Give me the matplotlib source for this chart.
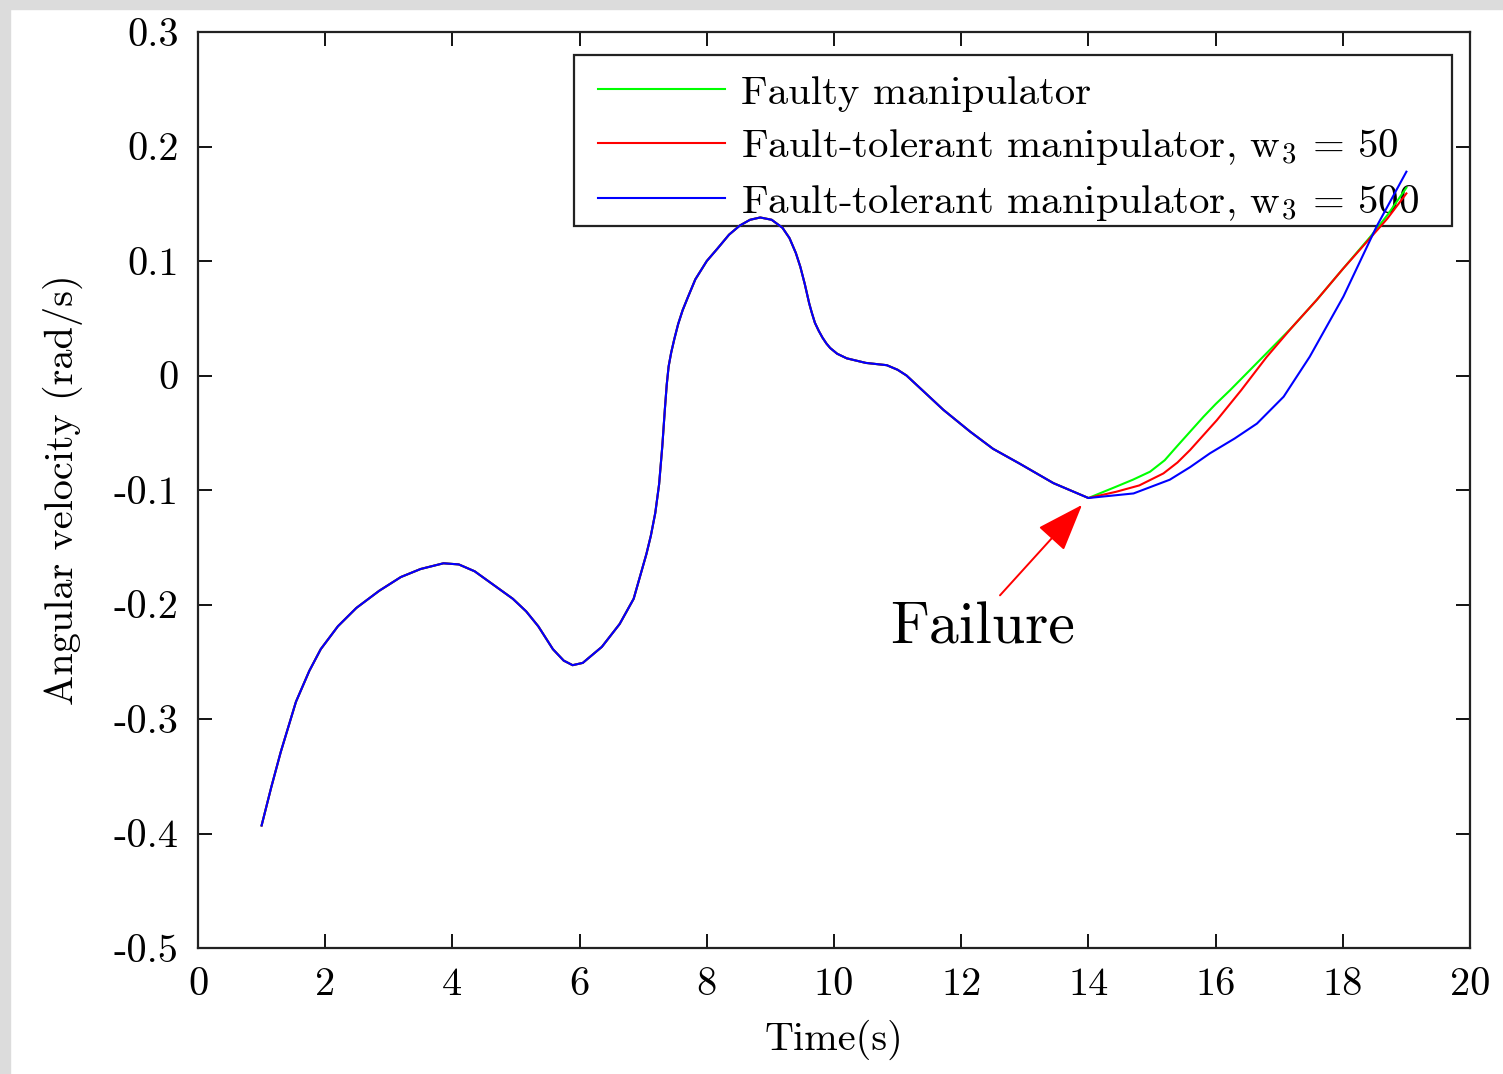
import numpy as np
import matplotlib
matplotlib.use("Agg")
import matplotlib.pyplot as plt
from matplotlib.patches import Rectangle

plt.rcParams['font.family'] = 'cmr10'
plt.rcParams['mathtext.fontset'] = 'cm'
plt.rcParams['axes.unicode_minus'] = False

# common trajectory before the joint failure at t = 14 s
t_pre = [1.0, 1.15, 1.3, 1.54, 1.75, 1.93, 2.2, 2.49, 2.85, 3.19, 3.5, 3.86,
         4.1, 4.35, 4.6, 4.95, 5.16, 5.35, 5.58, 5.75, 5.89, 6.05, 6.35, 6.63, 6.85,
         7.05, 7.12, 7.19, 7.25, 7.30, 7.34, 7.37, 7.40, 7.44, 7.49, 7.55, 7.62,
         7.70, 7.82, 8.0, 8.17, 8.35, 8.52, 8.68, 8.84, 9.02, 9.19, 9.30, 9.40,
         9.47, 9.54, 9.61, 9.65, 9.70, 9.76, 9.82, 9.88, 9.94, 10.05, 10.2, 10.5,
         10.83, 11.0, 11.14, 11.45, 11.72, 12.14, 12.5, 12.92, 13.45]
w_pre = [-0.393, -0.36, -0.329, -0.285, -0.258, -0.239, -0.219, -0.203, -0.188,
         -0.176, -0.169, -0.164, -0.165, -0.171, -0.181, -0.195, -0.206, -0.219,
         -0.239, -0.249, -0.253, -0.251, -0.237, -0.217, -0.195, -0.156, -0.140,
         -0.120, -0.095, -0.062, -0.030, -0.008, 0.008, 0.020, 0.032, 0.045,
         0.057, 0.068, 0.084, 0.100, 0.111, 0.123, 0.131, 0.136, 0.138, 0.136,
         0.129, 0.120, 0.107, 0.095, 0.080, 0.063, 0.055, 0.046, 0.039, 0.033,
         0.028, 0.024, 0.019, 0.015, 0.011, 0.009, 0.005, 0.000, -0.016, -0.030,
         -0.049, -0.064, -0.077, -0.094]

t_fail = 14.0
w_fail = -0.107

# after the failure
t_faulty = [14.44, 14.7, 14.97, 15.2, 15.39, 15.6, 15.81, 16.0, 16.23, 16.8,
            17.2, 17.59, 18.0, 18.43, 18.7, 19.0]
w_faulty = [-0.097, -0.091, -0.084, -0.074, -0.062, -0.049, -0.036, -0.025,
            -0.0127, 0.0194, 0.042, 0.066, 0.093, 0.121, 0.140, 0.164]

t_w50 = [14.44, 14.8, 15.18, 15.4, 15.6, 16.02, 16.4, 16.8, 17.2, 17.59, 18.0,
         18.43, 18.7, 19.0]
w_w50 = [-0.1015, -0.096, -0.0855, -0.076, -0.065, -0.039, -0.013, 0.016,
         0.042, 0.066, 0.093, 0.120, 0.137, 0.159]

t_w500 = [14.71, 15.28, 15.6, 15.91, 16.3, 16.65, 17.07, 17.48, 18.01, 18.53,
          19.0]
w_w500 = [-0.103, -0.091, -0.080, -0.068, -0.055, -0.042, -0.0185, 0.0164,
          0.069, 0.130, 0.178]

x_ticks = [0, 2, 4, 6, 8, 10, 12, 14, 16, 18, 20]
y_ticks = [-0.5, -0.4, -0.3, -0.2, -0.1, 0, 0.1, 0.2, 0.3]
y_labels = ['-0.5', '-0.4', '-0.3', '-0.2', '-0.1', '0', '0.1', '0.2', '0.3']

fig = plt.figure(figsize=(15.03, 10.74), dpi=100)
fig.patches.append(Rectangle((0, 0), 10 / 1503, 1, transform=fig.transFigure,
                             color='#dcdcdc', zorder=-10))
fig.patches.append(Rectangle((0, 1 - 9 / 1074), 1, 9 / 1074, transform=fig.transFigure,
                             color='#dcdcdc', zorder=-10))

ax = fig.add_axes([198 / 1503, 1 - 948 / 1074, 1272 / 1503, 916 / 1074])

def series(t_post, w_post):
    return t_pre + [t_fail] + t_post, w_pre + [w_fail] + w_post

lw = 1.5
ax.plot(*series(t_faulty, w_faulty), color='#00ff00', lw=lw, zorder=4,
        label='Faulty manipulator')
ax.plot(*series(t_w50, w_w50), color='#ff0000', lw=lw, zorder=4,
        label=r'Fault-tolerant manipulator, w$_3$ = 50')
ax.plot(*series(t_w500, w_w500), color='#0000ff', lw=lw, zorder=4,
        label=r'Fault-tolerant manipulator, w$_3$ = 500')

# failure marker
ax.annotate('', xy=(13.9, -0.113), xytext=(12.61, -0.192),
            arrowprops=dict(arrowstyle='-|>,head_length=1.5,head_width=0.55',
                            mutation_scale=20, color='#ff0000', lw=1.4,
                            shrinkA=0, shrinkB=0))
ax.text(12.33, -0.221, 'Failure', fontsize=43, ha='center', va='center')

ax.set_xlim(0, 20)
ax.set_ylim(-0.5, 0.3)
ax.set_xticks(x_ticks)
ax.set_xticklabels([str(v) for v in x_ticks])
ax.set_yticks(y_ticks)
ax.set_yticklabels(y_labels)
ax.tick_params(direction='in', length=10, width=1.3, top=True, right=True,
               labelsize=29, pad=14)
for s in ax.spines.values():
    s.set_linewidth(1.6)
    s.set_color('#222222')

ax.set_xlabel('Time(s)', fontsize=29, labelpad=12)
ax.set_ylabel('Angular velocity (rad/s)', fontsize=29, labelpad=22)

# legend box sits under the curves
ax.add_patch(Rectangle((0.2956, 0.7882), 0.6902, 0.1867, transform=ax.transAxes,
                       facecolor='white', edgecolor='#222222', lw=1.6, zorder=3))
leg = ax.legend(loc='center left', bbox_to_anchor=(0.3145, 0.8725), borderaxespad=0,
                fontsize=29.5, frameon=False, handlelength=3.1, handletextpad=0.4,
                labelspacing=0.38, borderpad=0)
leg.set_zorder(3.5)

fig.savefig('out.png', dpi=100)
